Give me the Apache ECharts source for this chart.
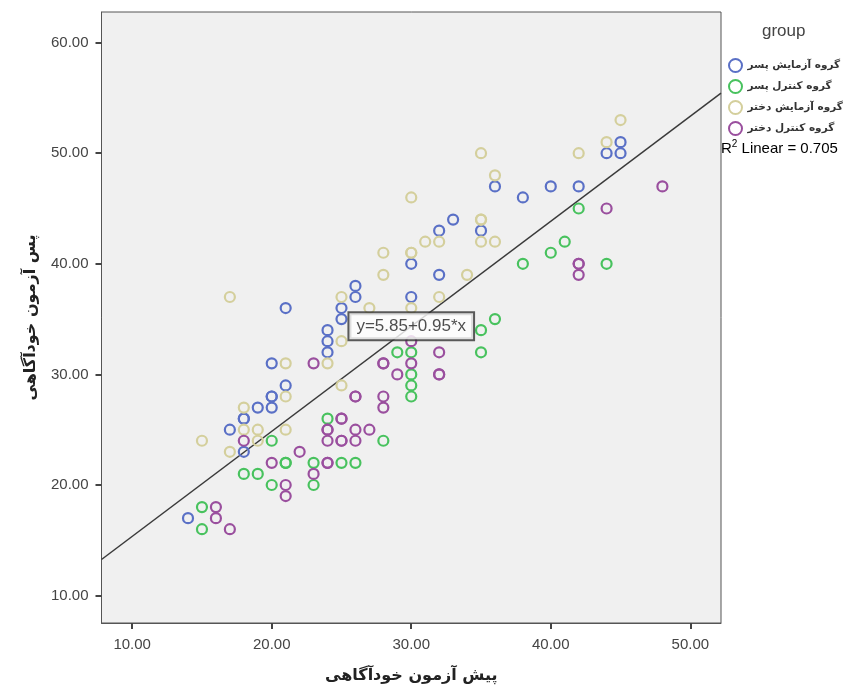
<!DOCTYPE html>
<html>
<head>
<meta charset="utf-8">
<script src="https://cdn.jsdelivr.net/npm/echarts@6/dist/echarts.min.js"></script>
<style>
html,body{margin:0;padding:0;background:#fff;}
#chart{width:853px;height:693px;}
</style>
</head>
<body>
<div id="chart"></div>
<script>
// ---- data ----
const groupNames = ['گروه آزمایش پسر', 'گروه کنترل پسر', 'گروه آزمایش دختر', 'گروه کنترل دختر'];
const groupColors = ['#5a70c6', '#48c25e', '#d4cf9c', '#9a4f9e'];

const expBoys = [[14,17],[17,25],[18,23],[18,26],[18,26],[19,27],[20,27],[20,28],[20,28],[20,31],[21,29],[21,36],
  [24,32],[24,33],[24,34],[25,35],[25,36],[26,37],[26,38],[30,37],[30,40],[32,39],[32,43],[33,44],[35,43],
  [36,47],[38,46],[40,47],[42,47],[44,50],[45,50],[45,51]];
const ctrlBoys = [[15,16],[15,18],[18,21],[19,21],[20,20],[20,24],[21,22],[21,22],[23,20],[23,22],[24,26],[25,22],
  [26,22],[28,24],[29,32],[30,28],[30,29],[30,30],[30,32],[35,32],[35,34],[36,35],[38,40],[40,41],[41,42],[42,45],[44,40]];
const expGirls = [[15,24],[17,23],[17,37],[18,25],[18,27],[19,24],[19,25],[21,25],[21,28],[21,31],[24,31],[25,29],
  [25,33],[25,37],[27,36],[28,39],[28,41],[30,36],[30,41],[30,41],[30,46],[31,42],[32,37],[32,42],[34,39],[35,42],
  [35,44],[35,44],[35,50],[36,42],[36,48],[42,50],[44,51],[45,53]];
const ctrlGirls = [[16,17],[16,18],[17,16],[18,24],[20,22],[21,19],[21,20],[22,23],[23,21],[23,31],[24,22],[24,22],
  [24,24],[24,25],[24,25],[25,24],[25,24],[25,26],[25,26],[26,24],[26,25],[26,28],[26,28],[27,25],[28,27],[28,28],
  [28,31],[28,31],[29,30],[30,31],[30,33],[32,30],[32,30],[32,32],[42,39],[42,40],[42,40],[44,45],[48,47]];

const xTicks = [10, 20, 30, 40, 50];
const yTicks = [10, 20, 30, 40, 50, 60];
const fitIntercept = 5.85;
const fitSlope = 0.95;
const rSquared = 0.705;
const fitLabelX = 30;
const xTitle = 'پیش آزمون خودآگاهی';
const yTitle = 'پس آزمون خودآگاهی';

// ---- chart ----
const xMin = 7.8, xMax = 52.2, yMin = 7.52, yMax = 62.77;
const fitY = x => fitIntercept + fitSlope * x;
const fitData = [xMin, xMax].map(x => [x, fitY(x)]);

const groups = [expBoys, ctrlBoys, expGirls, ctrlGirls];
const scatterSeries = groups.map((d, i) => ({
  name: groupNames[i],
  type: 'scatter',
  data: d,
  symbol: 'circle',
  symbolSize: 10,
  itemStyle: { color: 'rgba(0,0,0,0)', borderColor: groupColors[i], borderWidth: 2.2, opacity: 1 },
  emphasis: { disabled: true },
  z: 3
}));

const chart = echarts.init(document.getElementById('chart'), null, { renderer: 'canvas' });
chart.setOption({
  animation: false,
  backgroundColor: '#ffffff',
  grid: { left: 101.5, right: 132, top: 12, bottom: 70, show: true, backgroundColor: '#F0F0F0', borderColor: '#555', borderWidth: 1 },
  xAxis: {
    type: 'value', min: xMin, max: xMax,
    name: xTitle, nameLocation: 'middle', nameGap: 45,
    nameTextStyle: { fontFamily: 'DejaVu Sans', fontWeight: 'bold', fontSize: 16, color: '#222' },
    axisLine: { show: true, lineStyle: { color: '#555', width: 1 } },
    axisTick: { show: true, length: 6, lineStyle: { color: '#444', width: 2 }, customValues: xTicks },
    axisLabel: { customValues: xTicks, formatter: v => v.toFixed(2), fontFamily: 'Liberation Sans', fontSize: 15, color: '#444', margin: 14 },
    splitLine: { show: false }
  },
  yAxis: {
    type: 'value', min: yMin, max: yMax,
    name: yTitle, nameLocation: 'middle', nameGap: 63, nameRotate: 90,
    nameTextStyle: { fontFamily: 'DejaVu Sans', fontWeight: 'bold', fontSize: 16, color: '#222' },
    axisLine: { show: true, lineStyle: { color: '#555', width: 1 } },
    axisTick: { show: true, length: 6, lineStyle: { color: '#444', width: 2 }, customValues: yTicks },
    axisLabel: { customValues: yTicks, formatter: v => v.toFixed(2), fontFamily: 'Liberation Sans', fontSize: 15, color: '#444', margin: 13 },
    splitLine: { show: false }
  },
  legend: {
    orient: 'vertical', left: 723, top: 53,
    icon: 'circle', itemWidth: 14, itemHeight: 13, itemGap: 6,
    data: groupNames.map((n, i) => ({ name: n, itemStyle: { color: 'rgba(0,0,0,0)', borderColor: groupColors[i], borderWidth: 2 } })),
    textStyle: { fontFamily: 'DejaVu Sans', fontSize: 10.5, fontWeight: 'bold', color: '#333' },
    selectedMode: false
  },
  graphic: [
    { type: 'text', left: 762, top: 23, style: { text: 'group', font: '17px "Liberation Sans"', fill: '#444' } },
    { type: 'text', left: 721, top: 139, style: {
        text: '{r|R}{s|2}{r| Linear = ' + rSquared.toFixed(3) + '}',
        rich: { r: { fontFamily: 'Liberation Sans', fontSize: 15, color: '#333', verticalAlign: 'bottom' },
                s: { fontFamily: 'Liberation Sans', fontSize: 10, color: '#333', verticalAlign: 'top', padding: [0,0,7,0] } } } }
  ],
  series: scatterSeries.concat([{
    type: 'line',
    data: fitData,
    symbol: 'none',
    lineStyle: { color: '#3a3a3a', width: 1.5 },
    silent: true,
    z: 2
  }, {
    type: 'scatter',
    data: [[fitLabelX, fitY(fitLabelX)]],
    symbolSize: 1,
    itemStyle: { color: 'rgba(0,0,0,0)' },
    silent: true,
    z: 6,
    label: {
      show: true,
      position: 'inside',
      formatter: () => 'y=' + fitIntercept.toFixed(2) + '+' + fitSlope.toFixed(2) + '*x',
      fontFamily: 'Liberation Sans', fontSize: 17, color: '#222',
      backgroundColor: '#fff', borderColor: '#333', borderWidth: 2, padding: [5, 7, 4, 7]
    },
    labelLayout: { hideOverlap: false }
  }])
});
</script>
</body>
</html>
